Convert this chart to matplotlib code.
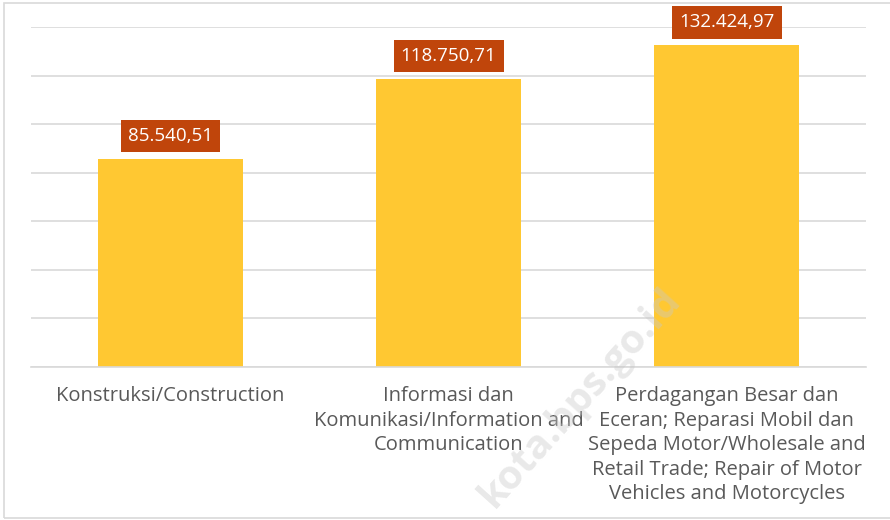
import matplotlib
matplotlib.use("Agg")
import matplotlib.pyplot as plt
from matplotlib.patches import Rectangle

categories = [
    "Konstruksi/Construction",
    "Informasi dan\nKomunikasi/Information and\nCommunication",
    "Perdagangan Besar dan\nEceran; Reparasi Mobil dan\nSepeda Motor/Wholesale and\nRetail Trade; Repair of Motor\nVehicles and Motorcycles",
]
values = [85540.51, 118750.71, 132424.97]
value_labels = ["85.540,51", "118.750,71", "132.424,97"]

plt.rcParams['font.family'] = ['Open Sans', 'DejaVu Sans']

W, H = 890, 520
fig = plt.figure(figsize=(8.9, 5.2), dpi=100)
fig.patch.set_facecolor("white")

# figure border
fig.add_artist(Rectangle((4 / W, 2 / H), 1.2, (H - 5) / H, transform=fig.transFigure,
                         fill=False, edgecolor="#d9d9d9", linewidth=1.2))

left, right = 31 / W, 866 / W
bottom, top = 1 - 367 / H, 1 - 27 / H
ax = fig.add_axes([left, bottom, right - left, top - bottom])

x = range(len(categories))
ax.bar(x, values, width=0.52, color="#FFC832", zorder=2)
ax.set_xlim(-0.5, 2.5)
ax.set_ylim(0, 140000)
ax.set_yticks(range(0, 140001, 20000))
ax.yaxis.grid(True, color="#d9d9d9", linewidth=1.2, zorder=0)
ax.set_yticklabels([])
ax.tick_params(axis="y", length=0)
ax.tick_params(axis="x", length=0, pad=14)
ax.set_xticks(list(x))
ax.set_xticklabels(categories, fontsize=14.5, color="#595959", linespacing=1.3)
for s in ["top", "right", "left"]:
    ax.spines[s].set_visible(False)
ax.spines["bottom"].set_color("#d9d9d9")
ax.spines["bottom"].set_linewidth(1.2)

for xi, v, lab in zip(x, values, value_labels):
    ax.annotate(lab, (xi, v), xytext=(0, 16.5), textcoords="offset points",
                ha="center", va="center", fontsize=13.5, color="white",
                bbox=dict(boxstyle="square,pad=0.38", facecolor="#C0450B",
                          edgecolor="none"), zorder=4)

# watermark
fig.text(580 / W, 1 - 398 / H, "kota.bps.go.id", rotation=48, ha="center", va="center",
         fontsize=29, fontweight="bold", color="#c8c8c8", alpha=0.4, zorder=10)

fig.savefig("out.png", dpi=100, facecolor="white")
